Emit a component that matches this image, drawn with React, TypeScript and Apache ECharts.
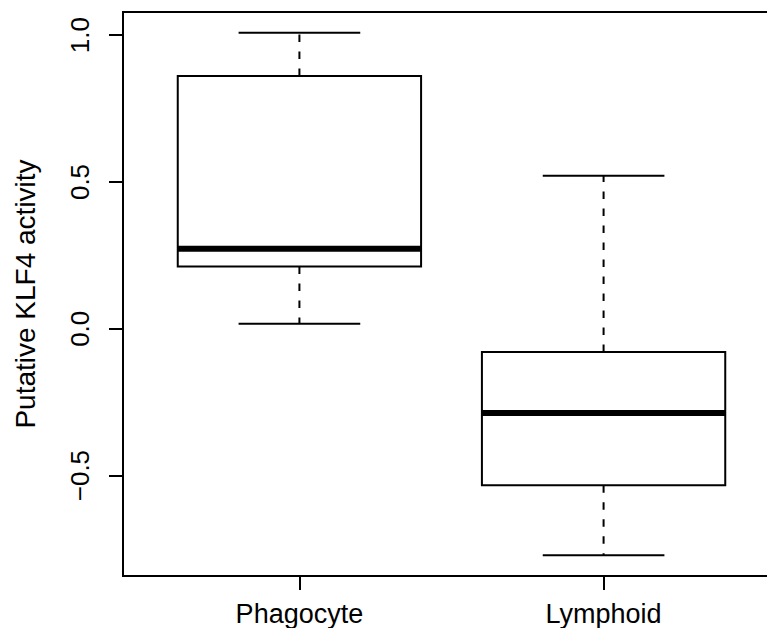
import React, { useEffect, useRef } from "react";
import * as echarts from "echarts";

const categories = ["Phagocyte", "Lymphoid"];
const positions = [1, 2];
const lowerWhisker = [0.017, -0.771];
const q1 = [0.212, -0.533];
const median = [0.2725, -0.2865];
const q3 = [0.861, -0.079];
const upperWhisker = [1.008, 0.521];
const yTicks = [-0.5, 0, 0.5, 1.0];
const yTitle = "Putative KLF4 activity";

const FONT = "'Liberation Sans', Arial, Helvetica, sans-serif";

export default function App() {
  const ref = useRef<HTMLDivElement>(null);
  useEffect(() => {
    if (!ref.current) return;
    const chart = echarts.init(ref.current, undefined, { renderer: "svg" });
    const data = positions.map((p, i) => [
      p,
      lowerWhisker[i],
      q1[i],
      median[i],
      q3[i],
      upperWhisker[i],
    ]);
    const black = "#000";
    chart.setOption({
      animation: false,
      backgroundColor: "#fff",
      grid: {
        left: 123,
        top: 12,
        right: 20,
        bottom: 52,
        show: true,
        borderColor: black,
        borderWidth: 2,
        backgroundColor: "transparent",
      },
      xAxis: {
        type: "value",
        min: 0.42,
        max: 2.58,
        axisLine: { show: false, onZero: false },
        splitLine: { show: false },
        axisTick: {
          show: true,
          customValues: positions,
          length: 14,
          lineStyle: { color: black, width: 2 },
        },
        axisLabel: {
          customValues: positions,
          formatter: (v: number) => categories[Math.round(v) - 1] ?? "",
          fontSize: 27,
          fontFamily: FONT,
          color: black,
          margin: 24,
        },
      },
      yAxis: {
        type: "value",
        min: -0.842,
        max: 1.079,
        name: yTitle,
        nameLocation: "middle",
        nameRotate: 90,
        nameGap: 84,
        nameTextStyle: { fontSize: 28, fontFamily: FONT, color: black },
        axisLine: { show: false, onZero: false },
        splitLine: { show: false },
        axisTick: {
          show: true,
          customValues: yTicks,
          length: 14,
          lineStyle: { color: black, width: 2 },
        },
        axisLabel: {
          customValues: yTicks,
          rotate: 90,
          formatter: (v: number) => v.toFixed(1).replace("-", "\u2212"),
          fontSize: 26,
          fontFamily: FONT,
          color: black,
          margin: 30,
        },
      },
      series: [
        {
          type: "custom",
          data,
          encode: { x: 0, y: [1, 2, 3, 4, 5] },
          renderItem: (params: any, api: any) => {
            const x = api.value(0);
            const pLow = api.coord([x, api.value(1)]);
            const pQ1 = api.coord([x, api.value(2)]);
            const pMed = api.coord([x, api.value(3)]);
            const pQ3 = api.coord([x, api.value(4)]);
            const pHigh = api.coord([x, api.value(5)]);
            const boxW = api.size([0.8, 0])[0];
            const capW = api.size([0.4, 0])[0];
            const cx = pMed[0];
            const solid = { stroke: black, lineWidth: 2, fill: "none" };
            const dashed = { stroke: black, lineWidth: 2, lineDash: [7.5, 9.5], fill: "none" };
            return {
              type: "group",
              children: [
                {
                  type: "polyline",
                  shape: { points: [[cx, pQ3[1]], [cx, pHigh[1]]] },
                  style: dashed,
                },
                {
                  type: "polyline",
                  shape: { points: [[cx, pQ1[1]], [cx, pLow[1]]] },
                  style: dashed,
                },
                {
                  type: "line",
                  shape: { x1: cx - capW / 2, y1: pHigh[1], x2: cx + capW / 2, y2: pHigh[1] },
                  style: solid,
                },
                {
                  type: "line",
                  shape: { x1: cx - capW / 2, y1: pLow[1], x2: cx + capW / 2, y2: pLow[1] },
                  style: solid,
                },
                {
                  type: "rect",
                  shape: {
                    x: cx - boxW / 2,
                    y: pQ3[1],
                    width: boxW,
                    height: pQ1[1] - pQ3[1],
                  },
                  style: { stroke: black, lineWidth: 2, fill: "#fff" },
                },
                {
                  type: "line",
                  shape: { x1: cx - boxW / 2, y1: pMed[1], x2: cx + boxW / 2, y2: pMed[1] },
                  style: { stroke: black, lineWidth: 6 },
                },
              ],
            };
          },
        },
      ],
    });
    return () => chart.dispose();
  }, []);
  return (
    <div
      style={{
        position: "fixed",
        left: 0,
        top: 0,
        width: 767,
        height: 628,
        overflow: "hidden",
        background: "#fff",
      }}
    >
      <div ref={ref} style={{ width: 800, height: 628 }} />
    </div>
  );
}
